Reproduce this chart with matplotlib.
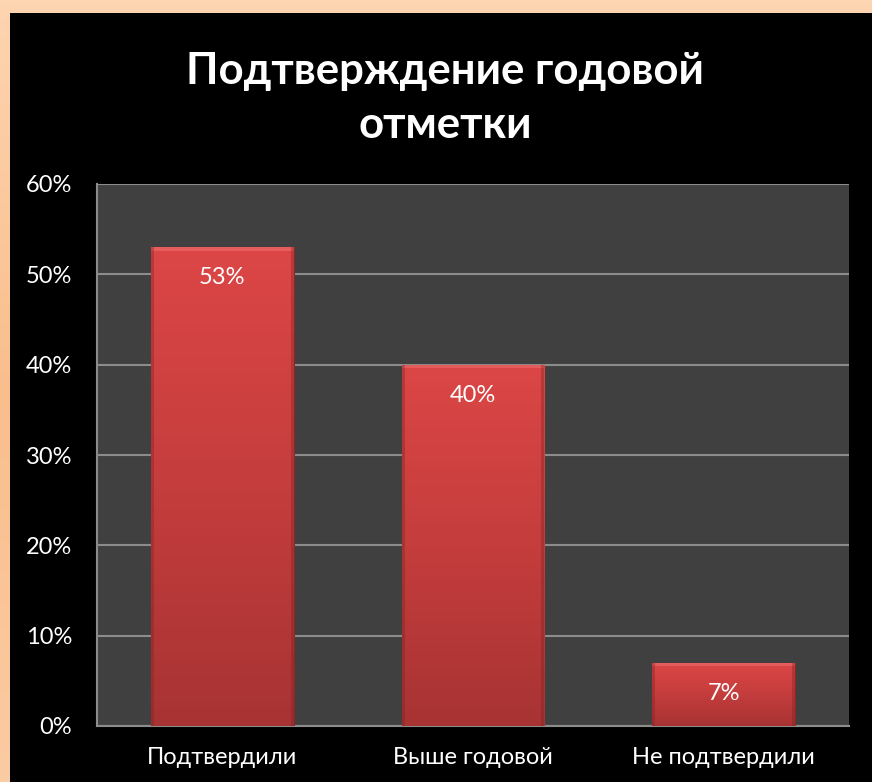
"""Bar chart: confirmation of the annual grade (share of students)."""

import matplotlib

matplotlib.use("Agg")

import matplotlib.pyplot as plt  # noqa: E402
import numpy as np  # noqa: E402
from matplotlib.colors import LinearSegmentedColormap  # noqa: E402
from matplotlib.patches import Rectangle  # noqa: E402

plt.rcParams["font.family"] = ["Lato", "Open Sans", "DejaVu Sans"]

categories = ["Подтвердили", "Выше годовой", "Не подтвердили"]
shares = [53, 40, 7]
y_ticks = [0, 10, 20, 30, 40, 50, 60]
title = "Подтверждение годовой\nотметки"

W, H = 872, 782
fig = plt.figure(figsize=(W / 100, H / 100), dpi=100)

# peach frame with a soft vertical gradient, black slide behind the chart
bg = fig.add_axes([0, 0, 1, 1], zorder=-10)
bg.axis("off")
peach = LinearSegmentedColormap.from_list("peach", ["#fdd5b1", "#f9be8c", "#fbcba3"])
bg.imshow(np.linspace(0, 1, 256)[:, None], aspect="auto", cmap=peach,
          extent=[0, 1, 0, 1], transform=bg.transAxes)
bg.add_patch(Rectangle((10 / W, 0), 1, (H - 13) / H, transform=bg.transAxes,
                       facecolor="black", edgecolor="none"))

ax = fig.add_axes([97 / W, 56 / H, 752 / W, 542 / H])
ax.set_facecolor("#404040")

x = np.arange(len(categories))
bars = ax.bar(x, shares, width=0.57, color="#c83c3c", edgecolor="#8e2626",
              linewidth=0.8, zorder=3)

# vertical light-to-dark gradient on each bar
red = LinearSegmentedColormap.from_list("red", ["#a83333", "#c53d3d", "#dc4646"])
for bar in bars:
    x0, y0 = bar.get_x(), bar.get_y()
    w, h = bar.get_width(), bar.get_height()
    img = ax.imshow(np.linspace(0, 1, 128)[:, None], aspect="auto", cmap=red,
                    origin="lower", extent=[x0, x0 + w, y0, y0 + h], zorder=3)
    img.set_clip_path(bar)
    # soft bevel: light top rim, darker side rims
    ax.add_patch(Rectangle((x0, y0 + h - 0.4), w, 0.4, facecolor="#f07a7a",
                           alpha=0.45, edgecolor="none", zorder=4))
    for sx in (x0, x0 + w - 0.012):
        ax.add_patch(Rectangle((sx, y0), 0.012, h, facecolor="#7a2020",
                               alpha=0.35, edgecolor="none", zorder=4))

for xi, val in zip(x, shares):
    ax.annotate(f"{val}%", (xi, val), xytext=(0, -22), textcoords="offset points",
                ha="center", va="center", color="white", fontsize=17, zorder=5)

ax.set_xlim(-0.5, len(categories) - 0.5)
ax.set_ylim(0, 60)
ax.set_yticks(y_ticks)
ax.set_yticklabels([f"{t}%" for t in y_ticks])
ax.set_xticks(x)
ax.set_xticklabels(categories)
ax.tick_params(axis="y", length=0, pad=18, labelsize=17, labelcolor="white")
ax.tick_params(axis="x", length=0, pad=15, labelsize=17, labelcolor="white")
ax.grid(axis="y", color="#8c8c8c", linewidth=1.5, zorder=1)
ax.set_axisbelow(True)
for side in ("top", "right"):
    ax.spines[side].set_visible(False)
for side in ("left", "bottom"):
    ax.spines[side].set_color("#8c8c8c")
    ax.spines[side].set_linewidth(1.5)

fig.text(445 / W, 1 - 98 / H, title, ha="center", va="center", color="white",
         fontsize=31.5, fontweight="bold", linespacing=1.4)

fig.savefig("out.png", dpi=100, facecolor=fig.get_facecolor())
plt.close(fig)
